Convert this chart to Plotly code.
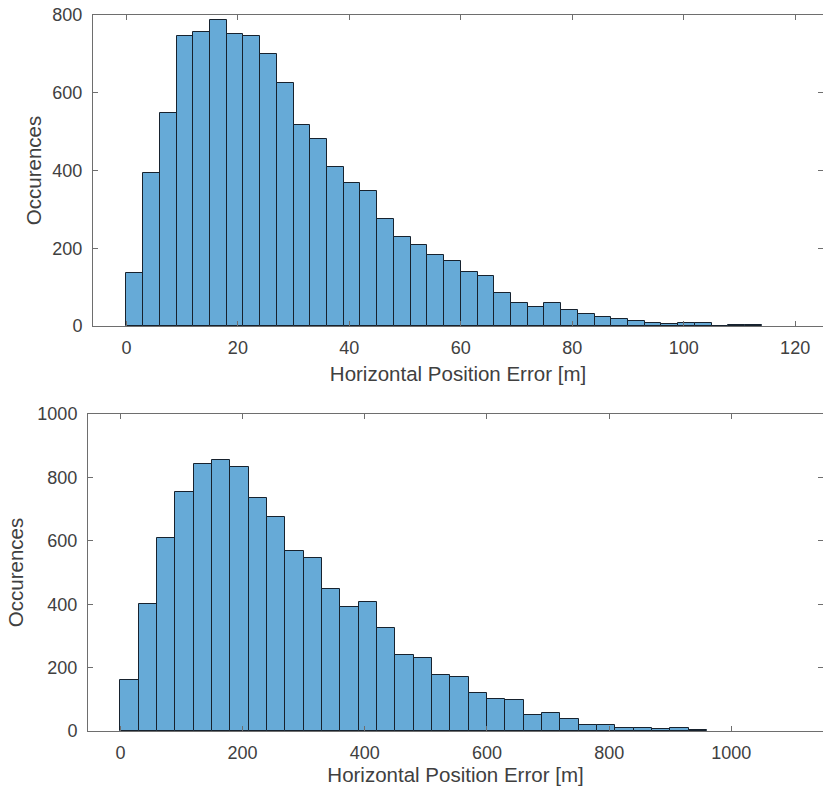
import plotly.graph_objects as go

# ---- data ----
top_bin_width = 3
top_counts = [137, 394, 549, 745, 755, 787, 750, 745, 699, 626,
              518, 480, 408, 368, 346, 275, 228, 209, 183, 168,
              138, 129, 84, 60, 50, 60, 40, 31, 22, 17,
              13, 7, 5, 9, 8, 1, 3, 3]

bottom_bin_width = 30
bottom_counts = [162, 402, 608, 755, 843, 855, 832, 736, 676, 569,
                 547, 448, 390, 407, 324, 239, 229, 178, 169, 120,
                 100, 99, 50, 57, 39, 20, 18, 11, 10, 5,
                 9, 2]

top_xticks = [0, 20, 40, 60, 80, 100, 120]
top_yticks = [0, 200, 400, 600, 800]
bottom_xticks = [0, 200, 400, 600, 800, 1000]
bottom_yticks = [0, 200, 400, 600, 800, 1000]

x_title = "Horizontal Position Error [m]"
y_title = "Occurences"

# ---- styling ----
FACE = "#66aad7"
EDGE = "#17222e"
AXIS = "#6e6e6e"
TXT = "#404040"
FONT = "Liberation Sans, Arial, sans-serif"
TICK_SIZE = 18
TITLE_SIZE = 20.5


def centers(counts, w):
    return [w * i + w / 2 for i in range(len(counts))]


fig = go.Figure()
fig.add_trace(go.Bar(x=centers(top_counts, top_bin_width), y=top_counts,
                     width=top_bin_width, marker=dict(color=FACE, line=dict(color=EDGE, width=1)),
                     xaxis="x", yaxis="y", showlegend=False, hoverinfo="skip"))
fig.add_trace(go.Bar(x=centers(bottom_counts, bottom_bin_width), y=bottom_counts,
                     width=bottom_bin_width, marker=dict(color=FACE, line=dict(color=EDGE, width=1)),
                     xaxis="x2", yaxis="y2", showlegend=False, hoverinfo="skip"))

W, H = 823, 793
ml, mr, mt, mb = 88, 0, 15, 62
pw, ph = W - ml - mr, H - mt - mb

common = dict(showline=True, linecolor=AXIS, linewidth=1, mirror="ticks",
              ticks="inside", ticklen=5, tickcolor=AXIS, tickwidth=1,
              showgrid=False, zeroline=False,
              tickfont=dict(family=FONT, size=TICK_SIZE, color=TXT))
title_font = dict(family=FONT, size=TITLE_SIZE, color=TXT)

fig.update_layout(
    width=W, height=H,
    margin=dict(l=ml, r=mr, t=mt, b=mb),
    paper_bgcolor="white", plot_bgcolor="white",
    bargap=0,
    xaxis=dict(common, domain=[5 / pw, 1], range=[-6, 125], tickvals=top_xticks,
               anchor="y", ticklabelstandoff=5,
               title=dict(text=x_title, font=title_font, standoff=10)),
    yaxis=dict(common, domain=[(731 - 326) / ph, 1], range=[0, 800], tickvals=top_yticks,
               anchor="x", ticklabelstandoff=6,
               title=dict(text=y_title, font=title_font, standoff=5)),
    xaxis2=dict(common, domain=[0, 1], range=[-53, 1150], tickvals=bottom_xticks,
                anchor="y2", ticklabelstandoff=5,
                title=dict(text=x_title, font=title_font, standoff=6)),
    yaxis2=dict(common, domain=[0, (731 - 414) / ph], range=[0, 1000], tickvals=bottom_yticks,
                anchor="x2", ticklabelstandoff=6,
                title=dict(text=y_title, font=title_font, standoff=8)),
)

fig.write_html("out.html", config={"displayModeBar": False},
               post_script="document.body.style.margin='0';")
